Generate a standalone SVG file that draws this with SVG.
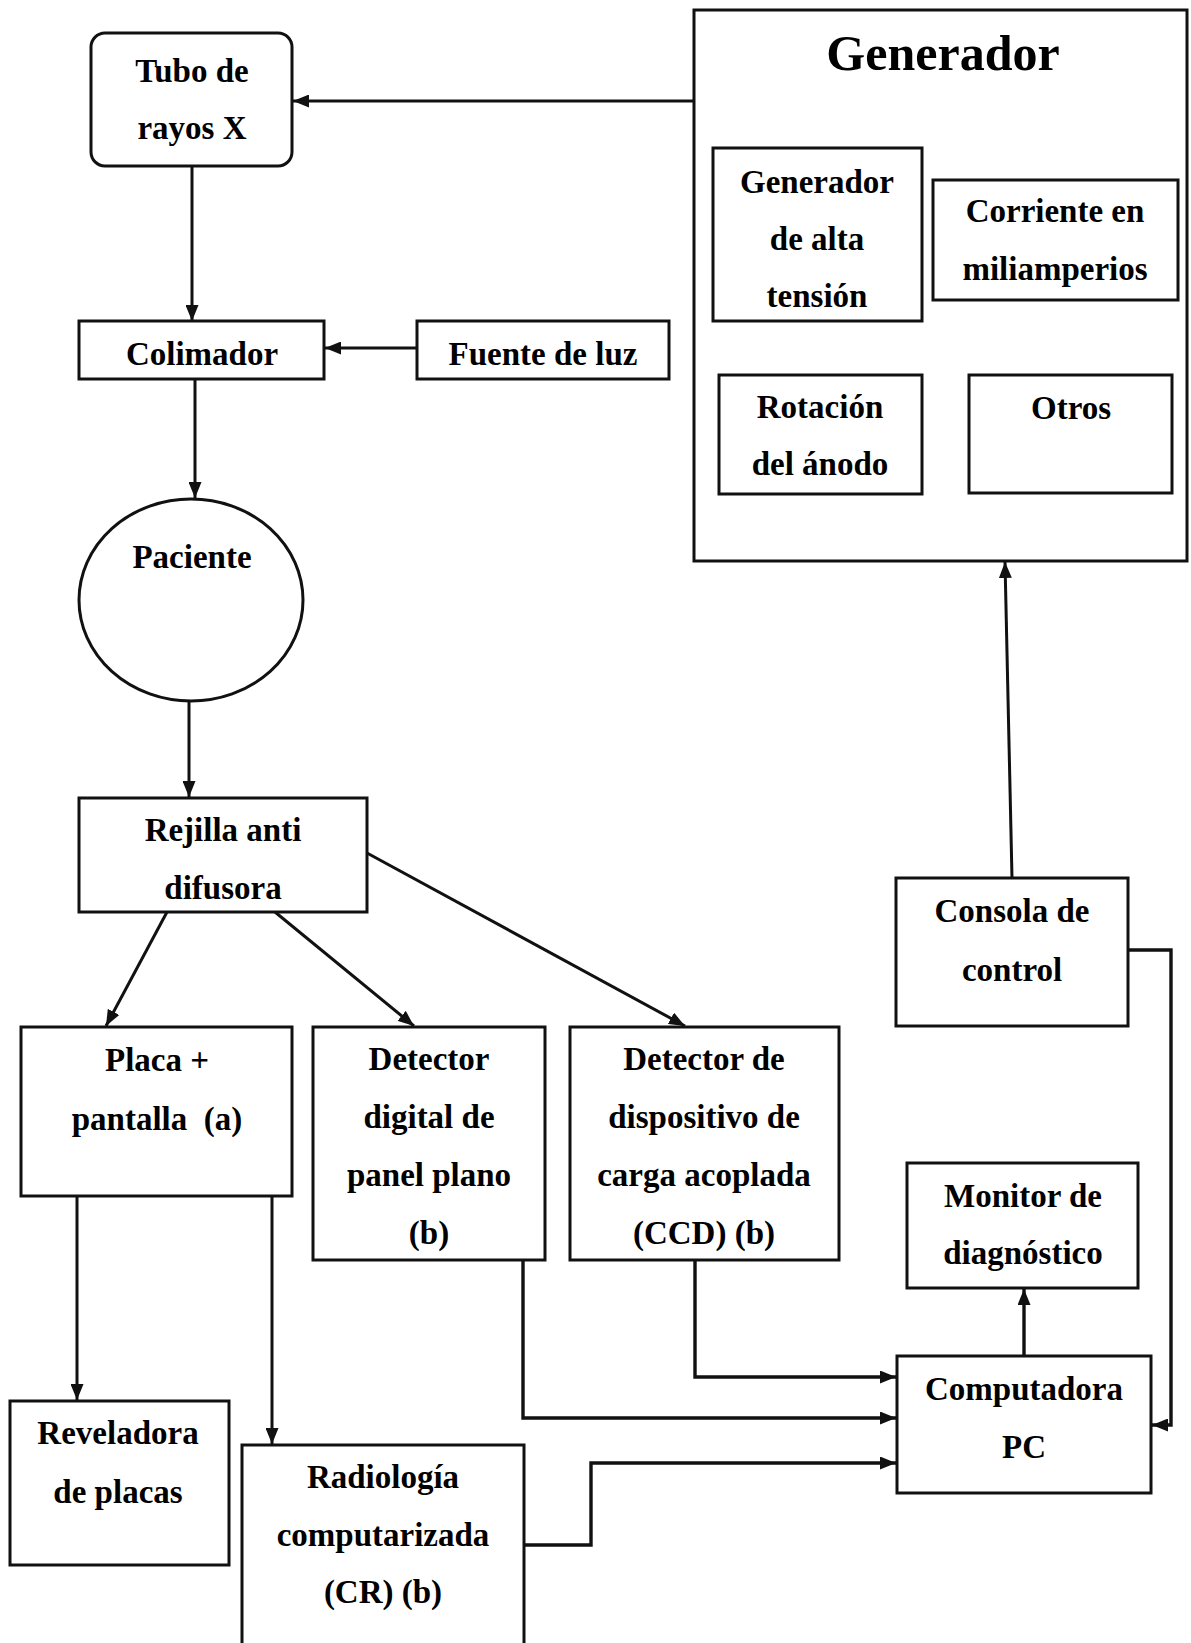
<svg xmlns="http://www.w3.org/2000/svg" width="1191" height="1643" viewBox="0 0 1191 1643">
<style>
.box{fill:none;stroke:#111;stroke-width:3}
.t{font-family:"Liberation Serif","Times New Roman",serif;font-weight:bold;font-size:33px;fill:#000;text-anchor:middle}
.title{font-size:50px}
.c{fill:none;stroke:#111;stroke-width:3}
.c3{fill:none;stroke:#111;stroke-width:3.4}
</style>
<defs>
<marker id="ah" markerUnits="userSpaceOnUse" markerWidth="17" markerHeight="13" refX="16" refY="6.5" orient="auto">
<path d="M0,0 L16,6.5 L0,13 z" fill="#111"/>
</marker>
</defs>
<rect width="1191" height="1643" fill="#fff"/>

<g id="generador">
<rect class="box" x="694" y="10" width="493" height="551"/>
<text class="t title" x="943" y="70">Generador</text>
</g>
<g id="gen-alta">
<rect class="box" x="713" y="148" width="209" height="173"/>
<text class="t" x="817" y="193">Generador</text>
<text class="t" x="817" y="250">de alta</text>
<text class="t" x="817" y="307">tensión</text>
</g>
<g id="corriente">
<rect class="box" x="933" y="180" width="245" height="120"/>
<text class="t" x="1055" y="222">Corriente en</text>
<text class="t" x="1055" y="280">miliamperios</text>
</g>
<g id="rotacion">
<rect class="box" x="719" y="375" width="203" height="119"/>
<text class="t" x="820" y="418">Rotación</text>
<text class="t" x="820" y="475">del ánodo</text>
</g>
<g id="otros">
<rect class="box" x="969" y="375" width="203" height="118"/>
<text class="t" x="1071" y="419">Otros</text>
</g>

<g id="tubo">
<rect class="box" x="91" y="33" width="201" height="133" rx="14"/>
<text class="t" x="192" y="82">Tubo de</text>
<text class="t" x="192" y="139">rayos X</text>
</g>
<g id="colimador">
<rect class="box" x="79" y="321" width="245" height="58"/>
<text class="t" x="202" y="365">Colimador</text>
</g>
<g id="fuente">
<rect class="box" x="417" y="321" width="252" height="58"/>
<text class="t" x="543" y="365">Fuente de luz</text>
</g>
<g id="paciente">
<ellipse class="box" cx="191" cy="600" rx="112" ry="101"/>
<text class="t" x="192" y="568">Paciente</text>
</g>
<g id="rejilla">
<rect class="box" x="79" y="798" width="288" height="114"/>
<text class="t" x="223" y="841">Rejilla anti</text>
<text class="t" x="223" y="899">difusora</text>
</g>
<g id="placa">
<rect class="box" x="21" y="1027" width="271" height="169"/>
<text class="t" x="157" y="1071">Placa +</text>
<text class="t" x="157" y="1130" xml:space="preserve">pantalla  (a)</text>
</g>
<g id="detector-digital">
<rect class="box" x="313" y="1027" width="232" height="233"/>
<text class="t" x="429" y="1070">Detector</text>
<text class="t" x="429" y="1128">digital de</text>
<text class="t" x="429" y="1186">panel plano</text>
<text class="t" x="429" y="1244">(b)</text>
</g>
<g id="ccd">
<rect class="box" x="570" y="1027" width="269" height="233"/>
<text class="t" x="704" y="1070">Detector de</text>
<text class="t" x="704" y="1128">dispositivo de</text>
<text class="t" x="704" y="1186">carga acoplada</text>
<text class="t" x="704" y="1244">(CCD) (b)</text>
</g>
<g id="reveladora">
<rect class="box" x="10" y="1401" width="219" height="164"/>
<text class="t" x="118" y="1444">Reveladora</text>
<text class="t" x="118" y="1503">de placas</text>
</g>
<g id="cr">
<rect class="box" x="242" y="1445" width="282" height="215"/>
<text class="t" x="383" y="1488">Radiología</text>
<text class="t" x="383" y="1546">computarizada</text>
<text class="t" x="383" y="1603">(CR) (b)</text>
</g>
<g id="consola">
<rect class="box" x="896" y="878" width="232" height="148"/>
<text class="t" x="1012" y="922">Consola de</text>
<text class="t" x="1012" y="981">control</text>
</g>
<g id="monitor">
<rect class="box" x="907" y="1163" width="231" height="125"/>
<text class="t" x="1023" y="1207">Monitor de</text>
<text class="t" x="1023" y="1264">diagnóstico</text>
</g>
<g id="pc">
<rect class="box" x="897" y="1356" width="254" height="137"/>
<text class="t" x="1024" y="1400">Computadora</text>
<text class="t" x="1024" y="1458">PC</text>
</g>

<g id="connectors">
<line class="c" x1="694" y1="101" x2="293" y2="101" marker-end="url(#ah)"/>
<line class="c" x1="192" y1="166" x2="192" y2="321" marker-end="url(#ah)"/>
<line class="c" x1="417" y1="348" x2="325" y2="348" marker-end="url(#ah)"/>
<line class="c" x1="195" y1="380" x2="195" y2="498" marker-end="url(#ah)"/>
<line class="c" x1="189" y1="701" x2="189" y2="797" marker-end="url(#ah)"/>
<line class="c" x1="167" y1="912" x2="106" y2="1026" marker-end="url(#ah)"/>
<line class="c" x1="275" y1="912" x2="414" y2="1026" marker-end="url(#ah)"/>
<line class="c" x1="367" y1="853" x2="685" y2="1026" marker-end="url(#ah)"/>
<line class="c" x1="77" y1="1196" x2="77" y2="1400" marker-end="url(#ah)"/>
<line class="c" x1="272" y1="1196" x2="272" y2="1444" marker-end="url(#ah)"/>
<path class="c3" d="M523,1260 V1418 H896" marker-end="url(#ah)"/>
<path class="c3" d="M695,1260 V1377 H896" marker-end="url(#ah)"/>
<path class="c3" d="M524,1545 H591 V1463 H896" marker-end="url(#ah)"/>
<line class="c3" x1="1024" y1="1356" x2="1024" y2="1289" marker-end="url(#ah)"/>
<line class="c" x1="1012" y1="878" x2="1005" y2="562" marker-end="url(#ah)"/>
<path class="c3" d="M1128,950 H1171 V1425 H1152" marker-end="url(#ah)"/>
</g>
</svg>
